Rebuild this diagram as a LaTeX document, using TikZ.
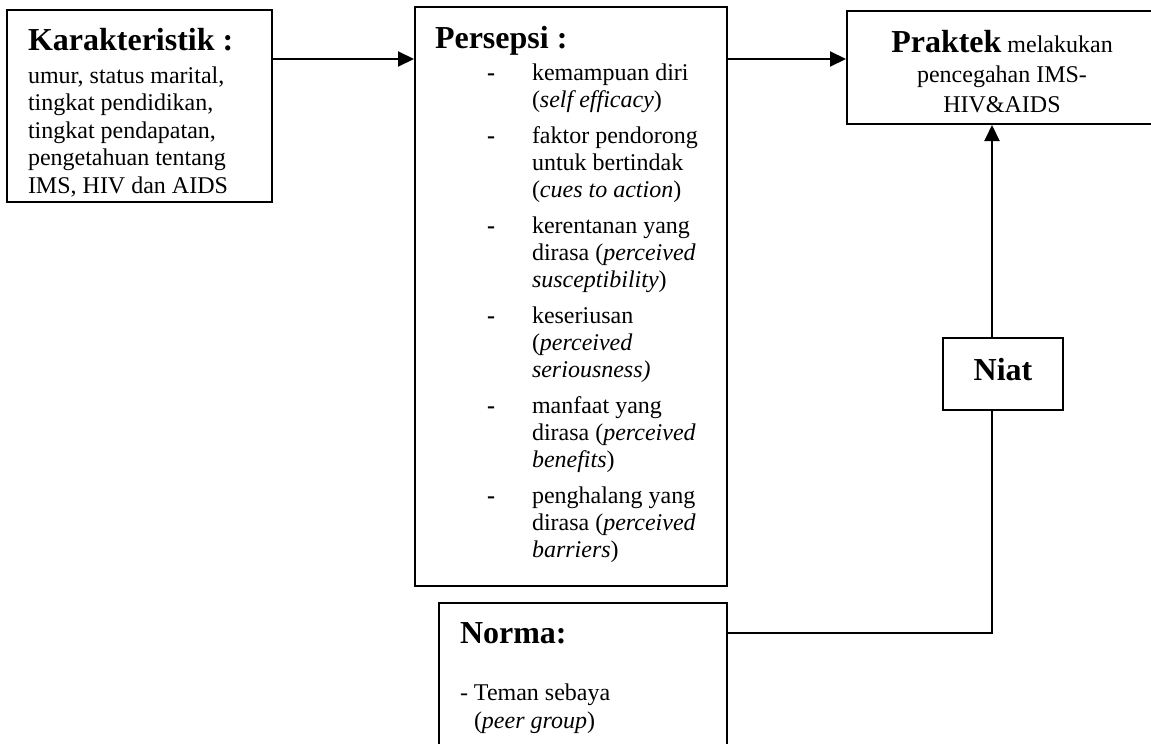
\documentclass[tikz,border=0pt]{standalone}
\usepackage{fontspec}
\setmainfont{Liberation Serif}
\usetikzlibrary{arrows.meta}
\newcommand{\hd}[1]{{\fontsize{16}{16}\selectfont\bfseries #1}}
\newcommand{\itm}[2][4.5pt]{\par\vspace{#1}\noindent\hangindent=48.5pt\hspace*{26pt}\makebox[22.5pt][l]{\bfseries -}#2}
\tikzset{
  box/.style={draw, line width=1pt, inner sep=0pt},
  arrow/.style={-{Triangle[length=8pt,width=7.5pt]}, line width=1pt},
  tie/.style={line width=1pt},
}
\begin{document}
\begin{tikzpicture}[x=0.5pt, y=-0.5pt]
\useasboundingbox (0,0) rectangle (1151,744);
% --- left column: characteristics and perceptions
\node[box, minimum width=132.5pt, minimum height=96pt] (kar) at (139.5,106) {\parbox[c][80pt][t]{111.5pt}{\fontsize{12}{13.75}\selectfont
\rule{0pt}{12pt}\hd{Karakteristik :}\par\vspace{2.75pt}
umur, status marital,\\tingkat pendidikan,\\tingkat pendapatan,\\pengetahuan tentang\\IMS, HIV dan AIDS}};
\node[box, minimum width=156pt, minimum height=289.5pt] (per) at (571,296.5) {\parbox[c][272.5pt][t]{136pt}{\fontsize{12}{13.5}\selectfont
\rule{0pt}{12pt}\hd{Persepsi :}
\itm[2.5pt]{kemampuan diri\\(\textit{self efficacy})}
\itm{faktor pendorong\\untuk bertindak\\(\textit{cues to action})}
\itm{kerentanan yang\\dirasa (\textit{perceived}\\\textit{susceptibility})}
\itm{keseriusan\\(\textit{perceived}\\\textit{seriousness)}}
\itm{manfaat yang\\dirasa (\textit{perceived}\\\textit{benefits})}
\itm{penghalang yang\\dirasa (\textit{perceived}\\\textit{barriers})}}};
\node[box, minimum width=144pt, minimum height=78.5pt] (norma) at (583,681.5) {\parbox[c][62.5pt][t]{123pt}{\fontsize{12}{14}\selectfont
\rule{0pt}{12pt}\hd{Norma:}\par\vspace{14.5pt}
- Teman sebaya\\\hspace*{7pt}(\textit{peer group})}};
% --- right column: practice and intention
\node[box, minimum width=155pt, minimum height=56.5pt] (prak) at (1002,67.5) {\parbox[c][39.5pt][t]{140pt}{\centering\fontsize{12}{15}\selectfont
\rule{0pt}{12pt}\hd{Praktek} melakukan\\pencegahan IMS-\\HIV\&AIDS}};
\node[box, minimum width=60pt, minimum height=36pt, text depth=5pt, font=\fontsize{16}{16}\selectfont\bfseries] (niat) at (1003,374) {Niat};
\coordinate (row) at (0,59);
\coordinate (link) at (992,633);
\draw[arrow] (kar.east |- row) -- (per.west |- row);
\draw[arrow] (per.east |- row) -- (prak.west |- row);
\draw[arrow] (niat.north -| link) -- (prak.south -| link);
\draw[tie] (norma.east |- link) -- (link) -- (niat.south -| link);
\end{tikzpicture}
\end{document}
